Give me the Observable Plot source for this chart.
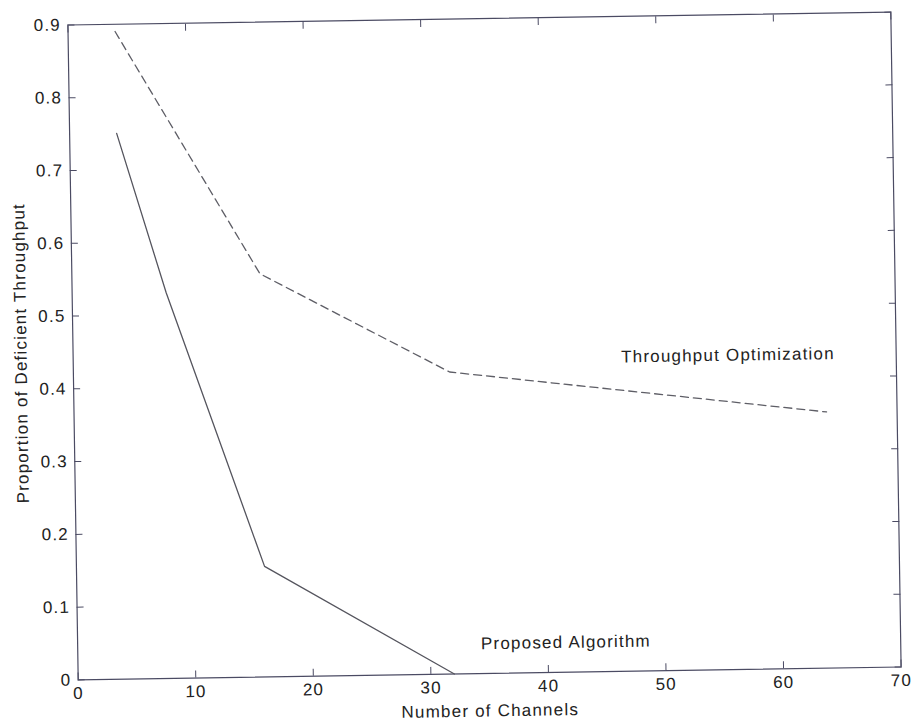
<!DOCTYPE html>
<html>
<head>
<meta charset="utf-8">
<script src="https://cdn.jsdelivr.net/npm/d3@7"></script>
<script src="https://cdn.jsdelivr.net/npm/@observablehq/plot@0.6"></script>
<style>
  html, body { margin: 0; padding: 0; background: #fff; }
  #chart { position: relative; width: 912px; height: 724px; }
  #chart svg { display: block; transform: rotate(-0.9deg); transform-origin: 484px 345.5px; }
  #chart svg text { letter-spacing: 1.2px; }
</style>
</head>
<body>
<div id="chart"></div>
<script>
const channels = [4, 8, 16, 32];
const proposedAlgorithm = [0.75, 0.53, 0.152, 0];
const throughputChannels = [4, 16, 32, 64];
const throughputOptimization = [0.89, 0.554, 0.415, 0.352];
const xTicks = [0, 10, 20, 30, 40, 50, 60, 70];
const yTicks = [0, 0.1, 0.2, 0.3, 0.4, 0.5, 0.6, 0.7, 0.8, 0.9];
const yTickLabels = ["0", "0.1", "0.2", "0.3", "0.4", "0.5", "0.6", "0.7", "0.8", "0.9"];
const annotations = [
  {x: 46.6, y: 0.432, text: "Throughput Optimization"},
  {x: 34.3, y: 0.041, text: "Proposed Algorithm"}
];

const proposed = channels.map((c, i) => ({x: c, y: proposedAlgorithm[i]}));
const throughput = throughputChannels.map((c, i) => ({x: c, y: throughputOptimization[i]}));

const axisColor = "#4b4b63";
const textColor = "#222";

const plot = Plot.plot({
  width: 912,
  height: 724,
  marginLeft: 72.5,
  marginRight: 16.5,
  marginTop: 18,
  marginBottom: 51,
  style: {fontFamily: "'Liberation Sans', Arial, Helvetica, sans-serif", fontSize: "17px", color: textColor, background: "#fff"},
  x: {domain: [0, 70]},
  y: {domain: [0, 0.9]},
  marks: [
    Plot.frame({stroke: axisColor, strokeWidth: 1.2}),
    // inward ticks on all four sides
    Plot.axisX({anchor: "bottom", ticks: xTicks, tickSize: -7, text: null, label: null, stroke: axisColor}),
    Plot.axisX({anchor: "top", ticks: xTicks, tickSize: -7, text: null, label: null, stroke: axisColor}),
    Plot.axisY({anchor: "left", ticks: yTicks, tickSize: -7, text: null, label: null, stroke: axisColor}),
    Plot.axisY({anchor: "right", ticks: yTicks, tickSize: -7, text: null, label: null, stroke: axisColor}),
    // tick labels
    Plot.axisX({anchor: "bottom", ticks: xTicks, tickSize: 0, tickPadding: 7, tickFormat: d => String(d), label: null, fill: textColor, fontSize: 17}),
    Plot.axisY({anchor: "left", ticks: yTicks, tickSize: 0, tickPadding: 7, tickFormat: (d, i) => yTickLabels[i], label: null, fill: textColor, fontSize: 17}),
    // axis titles
    Plot.text(["Number of Channels"], {frameAnchor: "bottom", dy: 43, text: d => d, fill: textColor, fontSize: 17}),
    Plot.text(["Proportion of Deficient Throughput"], {frameAnchor: "left", textAnchor: "middle", dx: -52, dy: 0, rotate: -90, text: d => d, fill: textColor, fontSize: 17}),
    // series
    Plot.line(throughput, {x: "x", y: "y", stroke: "#5e5e66", strokeWidth: 1.3, strokeDasharray: "8,5"}),
    Plot.line(proposed, {x: "x", y: "y", stroke: "#55555e", strokeWidth: 1.3}),
    // annotations
    Plot.text(annotations, {x: "x", y: "y", text: "text", textAnchor: "start", fill: textColor, fontSize: 17})
  ]
});

document.getElementById("chart").appendChild(plot);
</script>
</body>
</html>
